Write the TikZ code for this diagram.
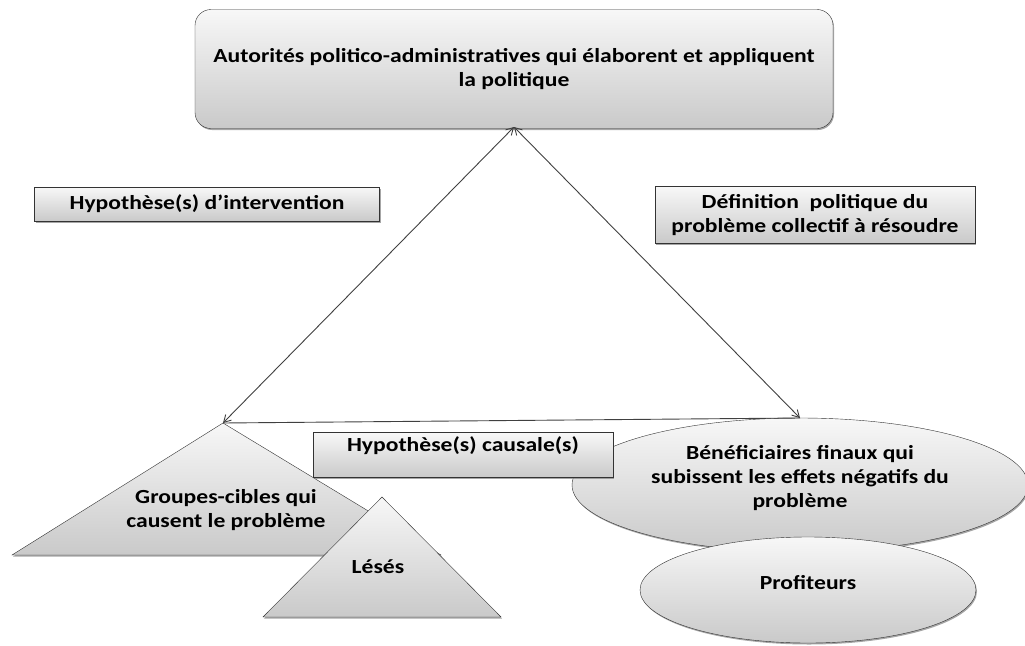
\documentclass[tikz,border=0pt]{standalone}
\usepackage{fontspec}
\setmainfont[FakeStretch=1.18]{Carlito}
\usetikzlibrary{arrows.meta,shadows}

\tikzset{
  greyfill/.style={draw=black!80, top color=gray!6, bottom color=gray!42,
    drop shadow={shadow xshift=1pt, shadow yshift=-1.5pt, opacity=.7}},
  greybox/.style={greyfill, inner sep=0pt, align=center},
  labeltext/.style={font=\bfseries\fontsize{20}{24}\selectfont, align=center},
  link/.style={draw=black!75, line width=0.9pt},
  barbs/.style={{Straight Barb[length=7pt,width=8pt]}-{Straight Barb[length=7pt,width=8pt]}},
}

\begin{document}
\begin{tikzpicture}[x=1pt, y=-1pt]

    \useasboundingbox (0,0) rectangle (1025,645);

    % AUTORITES
    \node[greybox, labeltext, rounded corners=16pt, minimum width=638pt, minimum height=119pt]
      (autorites) at (514,69) {Autorités politico-administratives qui élaborent et appliquent\\la politique};

    % HYPOTHESES (boxes on the sides)
    \node[greybox, labeltext, minimum width=345pt, minimum height=34pt]
      (intervention) at (207,204) {Hypothèse(s) d’intervention};
    \node[greybox, labeltext, minimum width=320pt, minimum height=57pt]
      (definition) at (815,215) {Définition\ \ politique du\\problème collectif à résoudre};

    % GROUPES-CIBLES
    \coordinate (cibles) at (223,423);
    \path[greyfill] (cibles) -- (12,555) -- (441,555) -- cycle;
    \node[labeltext] (groupes) at (226,510) {Groupes-cibles qui\\causent le problème};

    % LESES
    \path[greyfill] (382,497) -- (263,617) -- (501,617) -- cycle;
    \node[labeltext] (leses) at (378,567) {Lésés};

    % BENEFICIAIRES
    \path[greyfill] (800,485) ellipse (228pt and 67pt);
    \coordinate (finaux) at (800,418);
    \node[labeltext] (beneficiaires) at (800,478) {Bénéficiaires finaux qui\\subissent les effets négatifs du\\problème};

    % PROFITEURS
    \path[greyfill] (808,590) ellipse (168pt and 53pt);
    \node[labeltext] (profiteurs) at (808,583) {Profiteurs};

    % HYPOTHESE CAUSALE
    \node[greybox, labeltext, minimum width=300pt, text height=19pt, text depth=26pt]
      (causale) at (463,455) {Hypothèse(s) causale(s)};

    % CONNECTORS
    \coordinate (sommet) at (514,127);
    \draw[link, barbs] (sommet) -- (cibles);
    \draw[link, barbs] (sommet) -- (finaux);
    \draw[link] (cibles) -- (finaux);

\end{tikzpicture}
\end{document}
